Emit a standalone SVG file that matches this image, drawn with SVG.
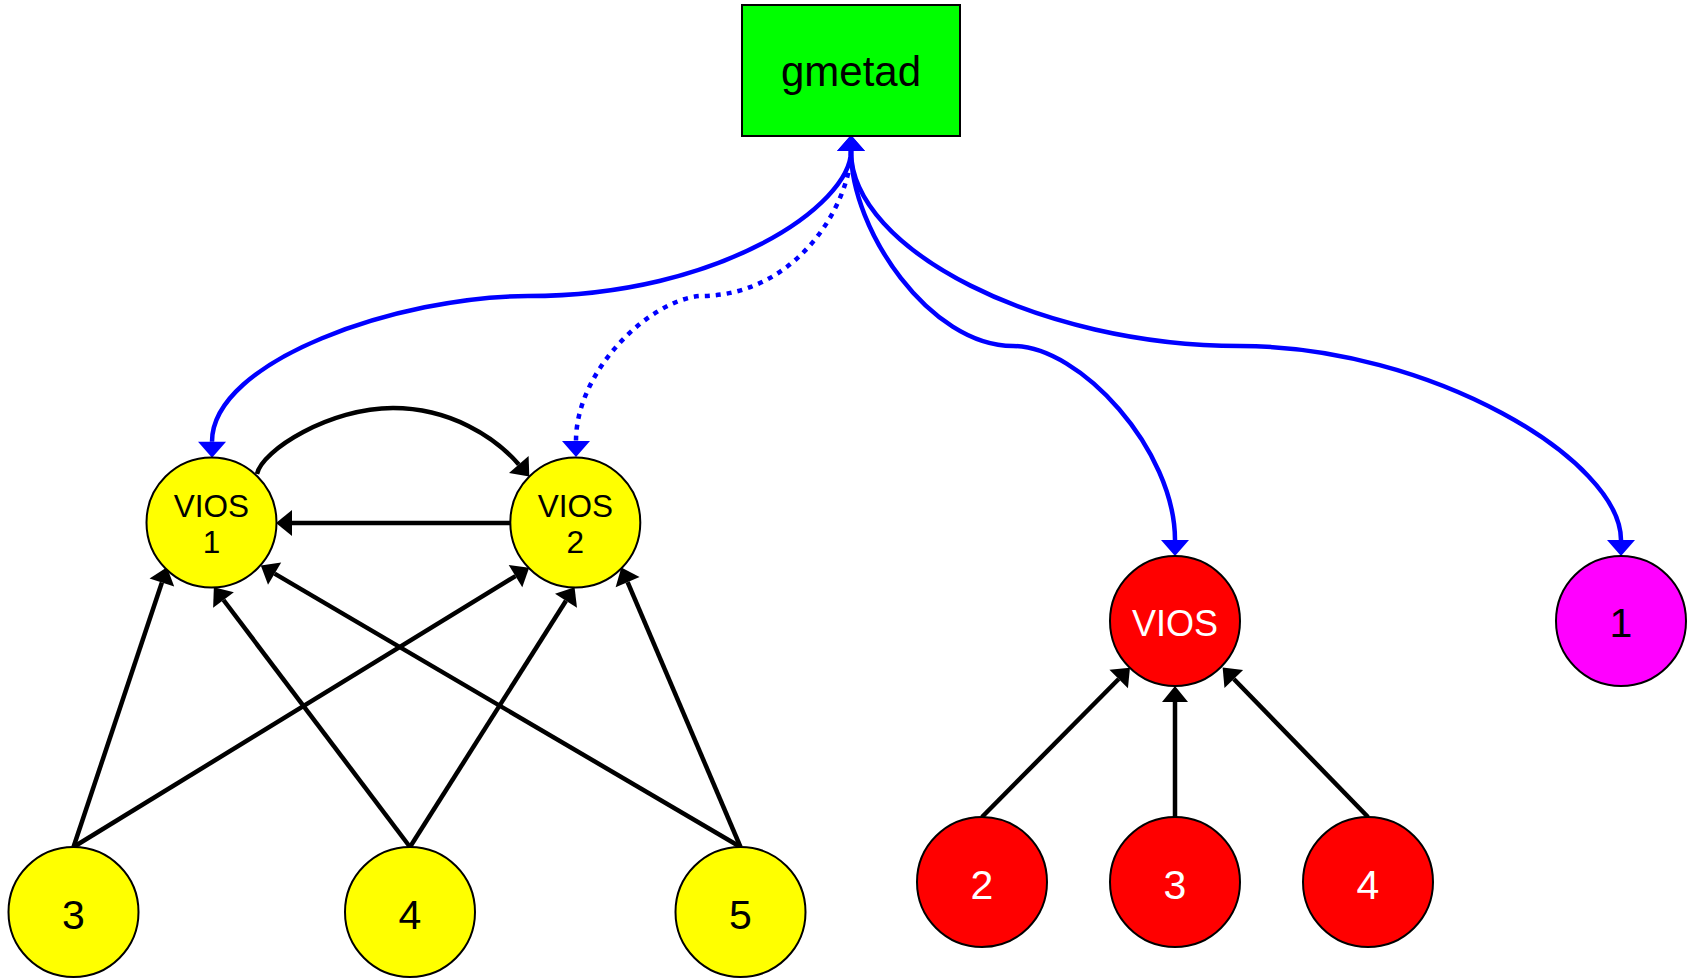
<svg xmlns="http://www.w3.org/2000/svg" width="1690" height="979" viewBox="0 0 1690 979">
  <style>
    .node { stroke: #000; stroke-width: 2; }
    .lbl { font-family: "Liberation Sans", Arial, sans-serif; text-anchor: middle; }
    .blk { fill: none; stroke: #000; stroke-width: 4.5; }
    .blu { fill: none; stroke: #0000ff; stroke-width: 4.5; }
    .dot { stroke-dasharray: 5 6; }
  </style>
  <defs>
    <marker id="ah-black" markerUnits="userSpaceOnUse" markerWidth="18" markerHeight="28" refX="0" refY="13" orient="auto-start-reverse" overflow="visible">
      <path d="M0,0 L16,13 L0,26 z" fill="#000"/>
    </marker>
    <marker id="ah-blue" markerUnits="userSpaceOnUse" markerWidth="18" markerHeight="30" refX="0" refY="14" orient="auto-start-reverse" overflow="visible">
      <path d="M0,0 L16,14 L0,28 z" fill="#0000ff"/>
    </marker>
  </defs>

  <rect width="1690" height="979" fill="#fff"/>

  <g id="connectors">
    <!-- gmetad to its sources -->
    <path class="blu" d="M851,151 C851,205 720,296 528,296 C400,296 212,360 212,441.7" marker-start="url(#ah-blue)" marker-end="url(#ah-blue)"/>
    <path class="blu dot" d="M851,151 C851,200 800,296 700,296 C650,300 576,370 576,441" marker-start="url(#ah-blue)" marker-end="url(#ah-blue)"/>
    <path class="blu" d="M851,151 C851,230 930,346 1013,346 C1080,346 1175,450 1175,540" marker-end="url(#ah-blue)"/>
    <path class="blu" d="M851,151 C851,250 1040,346 1240,346 C1430,346 1621,460 1621,540" marker-end="url(#ah-blue)"/>

    <!-- VIOS pair -->
    <path class="blk" d="M257,474 C262,450 330,408 393,408 C450,408 495,437 518.8,464.4" marker-end="url(#ah-black)"/>
    <line class="blk" x1="510.3" y1="523" x2="292" y2="523" marker-end="url(#ah-black)"/>

    <!-- clients to VIOS pair -->
    <line class="blk" x1="73.5" y1="847" x2="161.9" y2="582.5" marker-end="url(#ah-black)"/>
    <line class="blk" x1="73.5" y1="847" x2="515.5" y2="576.1" marker-end="url(#ah-black)"/>
    <line class="blk" x1="410" y1="847" x2="223.5" y2="600" marker-end="url(#ah-black)"/>
    <line class="blk" x1="410" y1="847" x2="566" y2="600.7" marker-end="url(#ah-black)"/>
    <line class="blk" x1="740.5" y1="847" x2="274.6" y2="573.6" marker-end="url(#ah-black)"/>
    <line class="blk" x1="740.5" y1="847" x2="627.6" y2="582.1" marker-end="url(#ah-black)"/>

    <!-- clients to single VIOS -->
    <line class="blk" x1="982" y1="817" x2="1118.7" y2="679" marker-end="url(#ah-black)"/>
    <line class="blk" x1="1175" y1="817" x2="1175" y2="702" marker-end="url(#ah-black)"/>
    <line class="blk" x1="1368" y1="817" x2="1233.8" y2="679" marker-end="url(#ah-black)"/>
  </g>

  <g id="gmetad">
    <rect class="node" x="742" y="5" width="218" height="131" fill="#00ff00" stroke-width="2.5"/>
    <text class="lbl" x="851" y="86" font-size="42">gmetad</text>
  </g>

  <g id="vios1">
    <circle class="node" cx="211.5" cy="522.5" r="65" fill="#ffff00"/>
    <text class="lbl" x="211.5" y="516.7" font-size="31.5">VIOS</text>
    <text class="lbl" x="211.5" y="553" font-size="31.5">1</text>
  </g>
  <g id="vios2">
    <circle class="node" cx="575.3" cy="522.5" r="65" fill="#ffff00"/>
    <text class="lbl" x="575.3" y="516.7" font-size="31.5">VIOS</text>
    <text class="lbl" x="575.3" y="553" font-size="31.5">2</text>
  </g>

  <g id="client-y3">
    <circle class="node" cx="73.5" cy="912" r="65" fill="#ffff00"/>
    <text class="lbl" x="73.5" y="929" font-size="41">3</text>
  </g>
  <g id="client-y4">
    <circle class="node" cx="410" cy="912" r="65" fill="#ffff00"/>
    <text class="lbl" x="410" y="929" font-size="41">4</text>
  </g>
  <g id="client-y5">
    <circle class="node" cx="740.5" cy="912" r="65" fill="#ffff00"/>
    <text class="lbl" x="740.5" y="929" font-size="41">5</text>
  </g>

  <g id="vios-red">
    <circle class="node" cx="1175" cy="621" r="65" fill="#ff0000"/>
    <text class="lbl" x="1175" y="636" font-size="36" fill="#fff">VIOS</text>
  </g>
  <g id="client-r2">
    <circle class="node" cx="982" cy="882" r="65" fill="#ff0000"/>
    <text class="lbl" x="982" y="899" font-size="41" fill="#fff">2</text>
  </g>
  <g id="client-r3">
    <circle class="node" cx="1175" cy="882" r="65" fill="#ff0000"/>
    <text class="lbl" x="1175" y="899" font-size="41" fill="#fff">3</text>
  </g>
  <g id="client-r4">
    <circle class="node" cx="1368" cy="882" r="65" fill="#ff0000"/>
    <text class="lbl" x="1368" y="899" font-size="41" fill="#fff">4</text>
  </g>

  <g id="host-1">
    <circle class="node" cx="1621" cy="621" r="65" fill="#ff00ff"/>
    <text class="lbl" x="1621" y="637" font-size="41">1</text>
  </g>
</svg>
